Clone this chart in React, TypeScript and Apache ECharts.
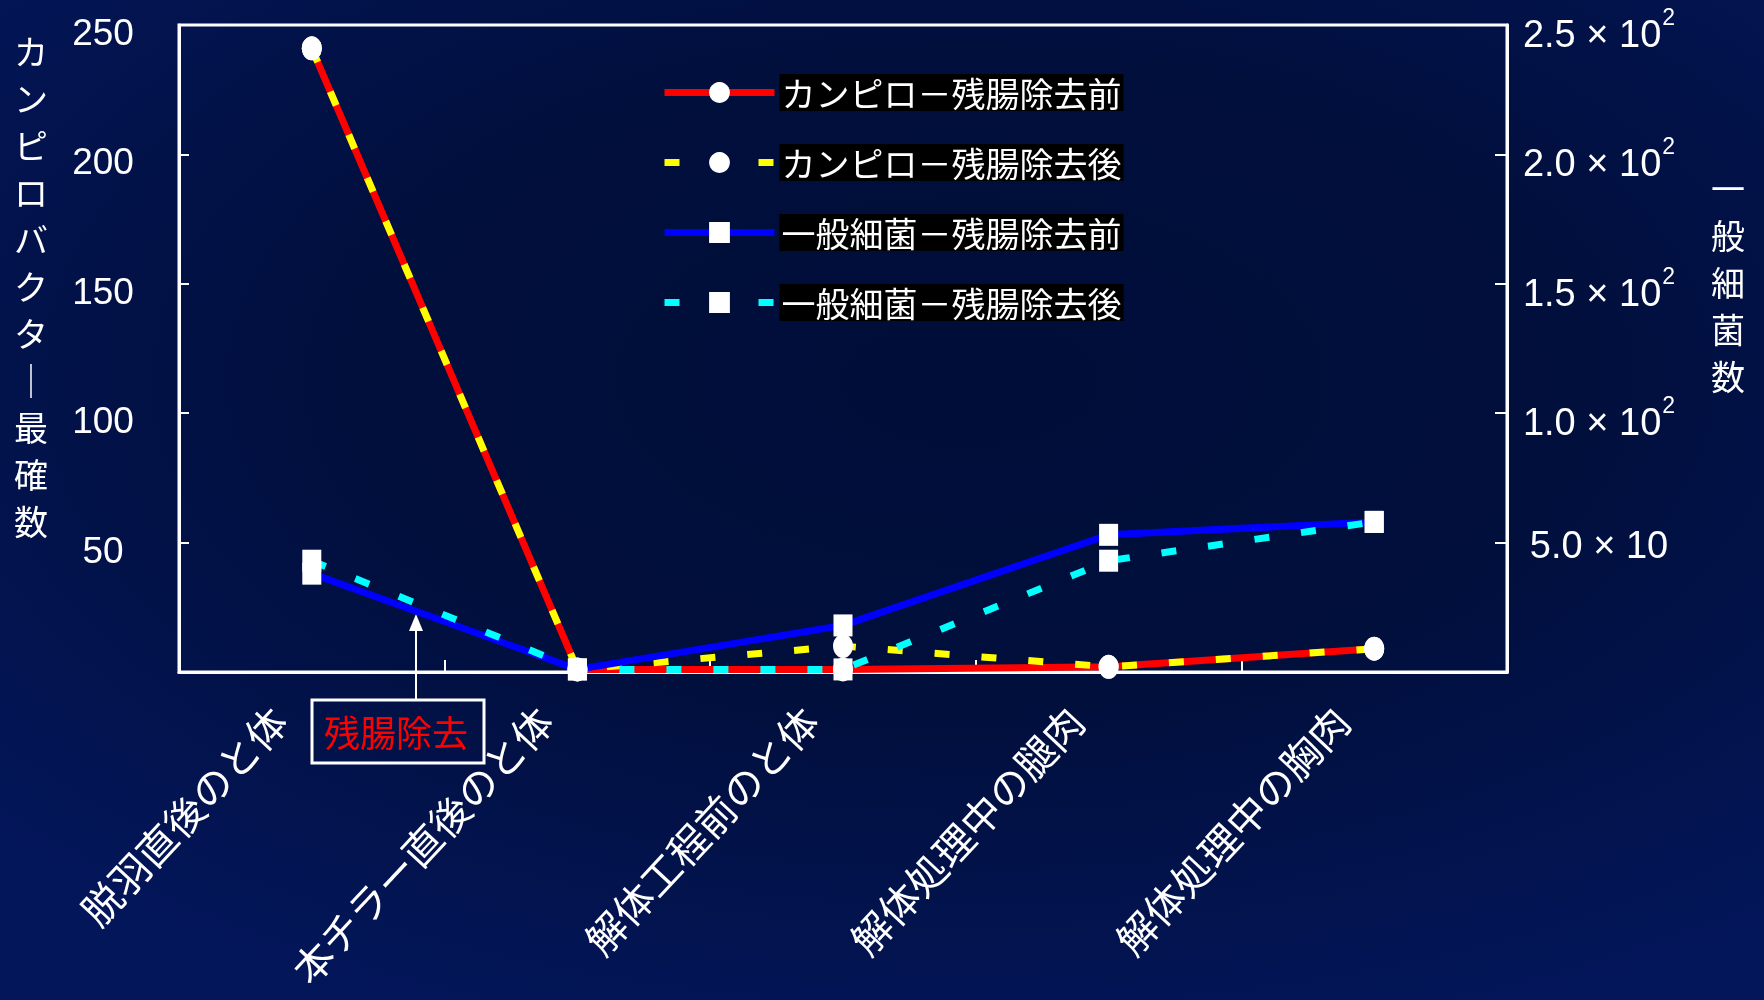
import { useEffect, useRef } from 'react';
import * as echarts from 'echarts';

const categories = ['脱羽直後のと体', '本チラー直後のと体', '解体工程前のと体', '解体処理中の腿肉', '解体処理中の胸肉'];
const seriesNames = ['カンピロ－残腸除去前', 'カンピロ－残腸除去後', '一般細菌－残腸除去前', '一般細菌－残腸除去後'];
const campyBefore = [241, 1, 1, 2, 9];
const campyAfter = [241, 1, 10, 2, 9];
const bacteriaBefore = [38, 1, 18, 53, 58];
const bacteriaAfter = [43, 1, 1, 43, 58];
const leftTickLabels: Record<number, string> = { 50: '50', 100: '100', 150: '150', 200: '200', 250: '250' };
const rightTickLabels: Record<number, [string, string]> = {
  50: ['5.0 × 10', ''],
  100: ['1.0 × 10', '2'],
  150: ['1.5 × 10', '2'],
  200: ['2.0 × 10', '2'],
  250: ['2.5 × 10', '2'],
};
const leftAxisName = ['カ', 'ン', 'ピ', 'ロ', 'バ', 'ク', 'タ', '｜', '最', '確', '数'];
const rightAxisName = ['一', '般', '細', '菌', '数'];
const annotationText = '残腸除去';

const JP = "'Noto Sans CJK JP', sans-serif";
const NUM = "'Liberation Sans', Arial, sans-serif";

export default function App() {
  const ref = useRef<HTMLDivElement>(null);
  useEffect(() => {
    if (!ref.current) return;
    const chart = echarts.init(ref.current, undefined, { renderer: 'svg' });
    const dash = [15, 32];
    const lineSeries = (name: string, data: number[], color: string, axis: number, symbol: string, size: number[], dashed: boolean) => ({
      name,
      type: 'line',
      data,
      yAxisIndex: axis,
      symbol,
      symbolSize: size,
      showSymbol: true,
      itemStyle: { color: '#ffffff' },
      lineStyle: { color, width: 7, type: dashed ? dash : 'solid', cap: 'butt' },
      emphasis: { disabled: true },
    });
    chart.setOption({
      animation: false,
      backgroundColor: 'transparent',
      grid: {
        left: 179,
        top: 25,
        width: 1328,
        height: 647,
        show: true,
        borderColor: '#ffffff',
        borderWidth: 3,
        backgroundColor: 'transparent',
        containLabel: false,
        outerBoundsMode: 'none',
      },
      legend: {
        orient: 'vertical',
        left: 661,
        top: 74,
        padding: 0,
        itemGap: 33,
        itemWidth: 110,
        itemHeight: 26,
        selectedMode: false,
        data: seriesNames,
        lineStyle: { width: 7 },
        textStyle: {
          color: '#ffffff',
          fontSize: 34,
          fontFamily: JP,
          backgroundColor: '#000000',
          padding: [1, 2],
          lineHeight: 35,
        },
      },
      xAxis: {
        type: 'category',
        data: categories,
        boundaryGap: true,
        axisLine: { show: true, lineStyle: { color: '#ffffff', width: 3 } },
        axisTick: { show: true, inside: true, length: 12, lineStyle: { color: '#ffffff', width: 2 } },
        axisLabel: {
          interval: 0,
          rotate: 47,
          margin: 5,
          padding: [0, 49, 0, 0],
          color: '#ffffff',
          fontSize: 40,
          fontFamily: JP,
          hideOverlap: false,
        },
        splitLine: { show: false },
      },
      yAxis: [
        {
          type: 'value',
          position: 'left',
          min: 0,
          max: 250,
          interval: 50,
          axisLine: { show: true, lineStyle: { color: '#ffffff', width: 3 } },
          axisTick: { show: true, inside: true, length: 10, lineStyle: { color: '#ffffff', width: 2 } },
          splitLine: { show: false },
          axisLabel: {
            margin: 76,
            align: 'center',
            color: '#ffffff',
            formatter: (v: number) => {
              const t = leftTickLabels[v];
              return t ? `{g| }\n{a|${t}}` : '';
            },
            rich: {
              g: { fontSize: 10, lineHeight: 15, fontFamily: NUM },
              a: { fontSize: 37, lineHeight: 40, color: '#ffffff', fontFamily: NUM },
            },
          },
        },
        {
          type: 'value',
          position: 'right',
          min: 0,
          max: 250,
          interval: 50,
          axisLine: { show: true, lineStyle: { color: '#ffffff', width: 3 } },
          axisTick: { show: true, inside: true, length: 12, lineStyle: { color: '#ffffff', width: 2 } },
          splitLine: { show: false },
          axisLabel: {
            margin: 92,
            align: 'center',
            color: '#ffffff',
            formatter: (v: number) => {
              const t = rightTickLabels[v];
              if (!t) return '';
              if (!t[1]) return `{h| }\n{n|${t[0]}}`;
              return `{g| }\n{m|${t[0]}}{s|${t[1]}}`;
            },
            rich: {
              g: { fontSize: 10, lineHeight: 18, fontFamily: NUM },
              h: { fontSize: 4, lineHeight: 4, fontFamily: NUM },
              n: { fontSize: 38, lineHeight: 40, color: '#ffffff', fontFamily: NUM },
              m: { fontSize: 38, lineHeight: 40, color: '#ffffff', fontFamily: NUM },
              s: { fontSize: 23, lineHeight: 23, padding: [0, 0, 34, 1], color: '#ffffff', fontFamily: NUM },
            },
          },
        },
      ],
      series: [
        lineSeries(seriesNames[0], campyBefore, '#ff0000', 0, 'circle', [20, 24], false),
        lineSeries(seriesNames[1], campyAfter, '#ffff00', 0, 'circle', [20, 24], true),
        lineSeries(seriesNames[2], bacteriaBefore, '#0000ff', 1, 'rect', [19, 22], false),
        lineSeries(seriesNames[3], bacteriaAfter, '#00ffff', 1, 'rect', [19, 22], true),
      ],
      graphic: [
        {
          type: 'text',
          x: 31,
          y: 27,
          style: {
            text: leftAxisName.join('\n'),
            fill: '#ffffff',
            fontSize: 34,
            fontFamily: JP,
            lineHeight: 47,
            align: 'center',
            verticalAlign: 'top',
            textAlign: 'center',
            textVerticalAlign: 'top',
          },
        },
        {
          type: 'text',
          x: 1728,
          y: 164,
          style: {
            text: rightAxisName.join('\n'),
            fill: '#ffffff',
            fontSize: 34,
            fontFamily: JP,
            lineHeight: 47,
            align: 'center',
            verticalAlign: 'top',
            textAlign: 'center',
            textVerticalAlign: 'top',
          },
        },
        {
          type: 'rect',
          shape: { x: 312, y: 700, width: 172, height: 63 },
          style: { fill: 'none', stroke: '#ffffff', lineWidth: 3 },
        },
        {
          type: 'text',
          x: 396,
          y: 731,
          style: {
            text: annotationText,
            fill: '#ff0000',
            fontSize: 36,
            fontFamily: JP,
            align: 'center',
            verticalAlign: 'middle',
            textAlign: 'center',
            textVerticalAlign: 'middle',
          },
        },
        {
          type: 'line',
          shape: { x1: 416, y1: 700, x2: 416, y2: 628 },
          style: { stroke: '#ffffff', lineWidth: 2 },
        },
        {
          type: 'polygon',
          shape: { points: [[416, 614], [409, 631], [423, 631]] },
          style: { fill: '#ffffff' },
        },
      ],
    });
    return () => chart.dispose();
  }, []);
  return (
    <div
      ref={ref}
      style={{
        position: 'fixed',
        left: 0,
        top: 0,
        width: 1764,
        height: 1000,
        background:
          'radial-gradient(ellipse 75% 70% at 55% 38%, #000d39 0%, #010f3c 45%, #03165a 100%)',
      }}
    />
  );
}
